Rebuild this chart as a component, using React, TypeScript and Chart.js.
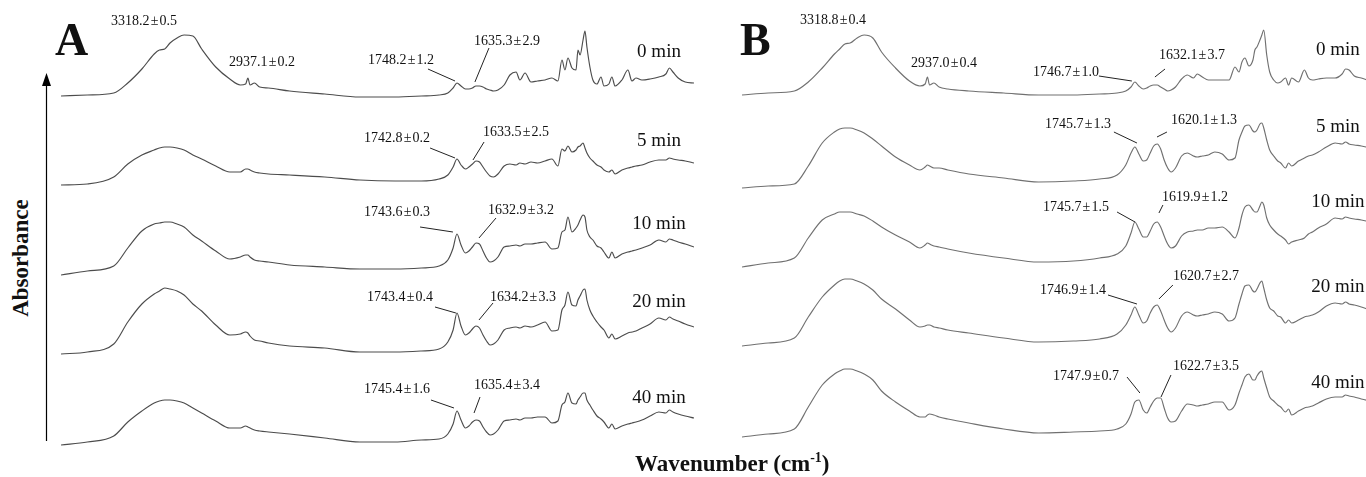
import React, { useEffect, useRef } from "react";
import { Chart, registerables } from "chart.js";

Chart.register(...registerables);

// Wavenumber grid (cm-1), shared by every spectrum
const wavenumbers = [
  4000, 3850, 3700, 3620, 3540, 3470, 3440, 3410, 3380, 3340,
  3300, 3250, 3200, 3120, 3040, 2980, 2950, 2937, 2925, 2900,
  2870, 2820, 2700, 2500, 2300, 2100, 1950,
  1850, 1800, 1770, 1748, 1725, 1700, 1680, 1660, 1640, 1620, 1600, 1580, 1560, 1540, 1515, 1480,
  1447, 1412, 1390,
  1361, 1327, 1290, 1247, 1208, 1174, 1151, 1134, 1117, 1094,
  1071, 1060, 1048, 1031, 1020, 1009, 992, 975, 952, 929,
  912, 884, 867, 849, 810, 776, 753, 730, 696, 650,
  600, 560, 540, 520, 490, 450, 400,
];

const timeLabels = ["0 min", "5 min", "10 min", "20 min", "40 min"];

// Panel A absorbance (arbitrary units)
const spectrumA0 = [
  0, 1, 3, 13, 27, 42, 46, 47, 53, 58, 61, 60, 47, 29, 17, 11, 12, 18, 11, 13, 9, 8, 5, 2, -1, -1, 0,
  1, 3, 8, 13, 10, 7, 7, 8, 10, 10, 9, 7, 6, 5, 6, 11,
  21, 24, 16,
  23, 14, 15, 16, 18, 15, 36, 26, 38, 28,
  26, 46, 41, 56, 65, 49, 29, 16, 12, 19,
  10, 12, 19, 10, 16, 26, 15, 18, 16, 17,
  19, 22, 28, 24, 18, 14, 13,
];
const spectrumA5 = [
  1, 2, 9, 22, 31, 36, 38, 39, 39, 38, 36, 31, 27, 20, 14, 14, 17, 17, 16, 14, 13, 12, 11, 9, 6, 5, 5,
  7, 11, 19, 27, 21, 17, 19, 22, 25, 24, 19, 14, 10, 9, 12, 20,
  22, 21, 23,
  22, 24, 23, 25, 27, 20, 37, 35, 40, 34,
  36, 39, 40, 43, 38, 33, 28, 25, 21, 19,
  16, 14, 16, 12, 16, 18, 19, 20, 21, 24,
  26, 26, 28, 27, 26, 25, 23,
];
const spectrumA10 = [
  0, 4, 9, 27, 44, 51, 52, 53, 53, 51, 48, 40, 34, 24, 16, 18, 20, 20, 18, 15, 14, 13, 10, 8, 6, 6, 7,
  9, 15, 27, 41, 30, 22, 24, 28, 32, 31, 24, 17, 13, 14, 18, 28,
  29, 30, 29,
  31, 31, 32, 33, 26, 27, 43, 45, 58, 43,
  47, 50, 55, 60, 58, 45, 38, 35, 29, 27,
  23, 17, 23, 17, 21, 23, 24, 25, 27, 30,
  35, 33, 36, 35, 33, 31, 28,
];
const spectrumA20 = [
  1, 3, 11, 33, 51, 61, 64, 67, 66, 64, 60, 51, 44, 30, 20, 21, 23, 22, 19, 15, 14, 12, 9, 7, 3, 3, 4,
  6, 13, 25, 42, 29, 20, 22, 26, 29, 27, 20, 14, 10, 11, 15, 25,
  27, 28, 27,
  29, 28, 30, 33, 24, 25, 45, 50, 63, 50,
  49, 55, 59, 65, 66, 55, 45, 39, 33, 28,
  25, 17, 21, 16, 19, 22, 23, 24, 27, 31,
  37, 35, 38, 36, 34, 31, 28,
];
const spectrumA40 = [
  0, 3, 9, 23, 34, 42, 44, 45, 45, 44, 42, 37, 32, 24, 17, 17, 19, 18, 17, 15, 14, 13, 11, 7, 3, 3, 5,
  6, 11, 21, 34, 25, 17, 19, 23, 25, 24, 18, 13, 10, 11, 15, 24,
  25, 26, 25,
  27, 27, 28, 28, 22, 24, 40, 43, 52, 42,
  41, 45, 48, 52, 52, 45, 40, 35, 29, 26,
  23, 17, 21, 16, 19, 21, 22, 23, 25, 29,
  33, 32, 35, 33, 31, 29, 27,
];

// Panel B absorbance (arbitrary units)
const spectrumB0 = [
  0, 2, 4, 13, 27, 41, 46, 51, 52, 57, 60, 57, 43, 27, 14, 9, 11, 18, 10, 12, 8, 6, 4, 2, 0, 0, 1,
  2, 4, 8, 13, 9, 6, 7, 9, 10, 10, 8, 6, 4, 5, 8, 16,
  20, 17, 21,
  18, 15, 15, 15, 15, 28, 23, 33, 37, 29,
  35, 45, 48, 55, 60, 65, 40, 23, 15, 12,
  13, 17, 10, 17, 13, 25, 17, 15, 16, 17,
  17, 21, 26, 25, 19, 17, 14,
];
const spectrumB5 = [
  0, 2, 4, 22, 45, 56, 59, 60, 60, 58, 55, 49, 42, 31, 23, 18, 21, 23, 22, 20, 20, 18, 14, 10, 6, 7, 9,
  13, 23, 35, 41, 34, 27, 28, 35, 42, 44, 39, 28, 20, 16, 20, 32,
  35, 32, 31,
  32, 33, 36, 34, 28, 30, 48, 56, 62, 63,
  57, 56, 58, 64, 65, 60, 48, 38, 32, 27,
  25, 20, 25, 22, 27, 30, 32, 33, 36, 41,
  45, 44, 46, 44, 43, 42, 40,
];
const spectrumB10 = [
  0, 4, 9, 29, 47, 53, 55, 55, 55, 53, 51, 46, 40, 32, 25, 19, 22, 24, 23, 21, 20, 18, 14, 9, 5, 6, 9,
  13, 21, 34, 45, 38, 30, 30, 36, 43, 45, 40, 31, 23, 19, 21, 31,
  35, 36, 37,
  37, 39, 39, 40, 35, 29, 39, 52, 60, 62,
  57, 55, 55, 61, 65, 62, 49, 42, 37, 33,
  31, 27, 23, 25, 27, 29, 33, 35, 39, 43,
  49, 48, 50, 49, 48, 47, 45,
];
const spectrumB20 = [
  0, 3, 8, 29, 49, 61, 65, 67, 67, 65, 62, 56, 47, 37, 26, 19, 20, 21, 21, 19, 18, 16, 13, 8, 4, 5, 7,
  12, 21, 31, 39, 31, 23, 25, 33, 39, 41, 35, 26, 18, 14, 18, 30,
  34, 31, 30,
  31, 32, 34, 32, 25, 28, 42, 52, 60, 61,
  55, 54, 57, 63, 65, 58, 46, 38, 35, 30,
  29, 23, 26, 23, 26, 29, 30, 31, 34, 40,
  43, 42, 44, 42, 41, 39, 36,
];
const spectrumB40 = [
  0, 3, 8, 30, 52, 63, 66, 68, 68, 66, 63, 57, 46, 35, 26, 20, 20, 22, 23, 22, 20, 18, 14, 8, 4, 5, 6,
  8, 13, 23, 35, 37, 27, 24, 30, 36, 39, 39, 29, 19, 15, 16, 26,
  33, 32, 31,
  32, 33, 35, 35, 27, 32, 44, 52, 60, 63,
  57, 57, 61, 65, 66, 59, 49, 40, 36, 32,
  30, 25, 28, 22, 26, 29, 30, 31, 34, 38,
  40, 40, 42, 41, 40, 38, 36,
];

// vertical stacking offsets of the spectra (same units as absorbance)
const stackOffsetsA = [381, 291, 202, 122, 32];
const stackOffsetsB = [382, 289, 210, 131, 40];

type Note = { text: string; w: number; v: number; line?: number[] };

const PM = "\u200A±\u200A";

const peakNotesA: Note[] = [
  { text: `3318.2${PM}0.5`, w: 3528, v: 456 },
  { text: `2937.1${PM}0.2`, w: 2857, v: 415 },
  { text: `1748.2${PM}1.2`, w: 2066, v: 417, line: [1913, 408, 1759, 396] },
  { text: `1635.3${PM}2.9`, w: 1464, v: 436, line: [1566, 429, 1646, 395] },
  { text: `1742.8${PM}0.2`, w: 2089, v: 339, line: [1901, 329, 1759, 319] },
  { text: `1633.5${PM}2.5`, w: 1412, v: 345, line: [1594, 335, 1657, 317] },
  { text: `1743.6${PM}0.3`, w: 2089, v: 265, line: [1958, 250, 1771, 245] },
  { text: `1632.9${PM}3.2`, w: 1384, v: 267, line: [1526, 259, 1623, 239] },
  { text: `1743.4${PM}0.4`, w: 2072, v: 180, line: [1873, 170, 1754, 164] },
  { text: `1634.2${PM}3.3`, w: 1373, v: 180, line: [1543, 174, 1623, 157] },
  { text: `1745.4${PM}1.6`, w: 2089, v: 88, line: [1896, 77, 1765, 69] },
  { text: `1635.4${PM}3.4`, w: 1464, v: 92, line: [1617, 80, 1651, 64] },
];

const peakNotesB: Note[] = [
  { text: `3318.8${PM}0.4`, w: 3478, v: 457 },
  { text: `2937.0${PM}0.4`, w: 2842, v: 414 },
  { text: `1746.7${PM}1.0`, w: 2143, v: 405, line: [1954, 401, 1765, 396] },
  { text: `1632.1${PM}3.7`, w: 1421, v: 422, line: [1575, 408, 1633, 400] },
  { text: `1745.7${PM}1.3`, w: 2074, v: 353, line: [1868, 345, 1736, 334] },
  { text: `1620.1${PM}1.3`, w: 1352, v: 357, line: [1564, 345, 1621, 340] },
  { text: `1745.7${PM}1.5`, w: 2086, v: 270, line: [1850, 265, 1747, 255] },
  { text: `1619.9${PM}1.2`, w: 1403, v: 280, line: [1587, 272, 1610, 264] },
  { text: `1746.9${PM}1.4`, w: 2103, v: 187, line: [1902, 182, 1736, 173] },
  { text: `1620.7${PM}2.7`, w: 1340, v: 201, line: [1530, 192, 1610, 178] },
  { text: `1747.9${PM}0.7`, w: 2028, v: 101, line: [1793, 100, 1719, 84] },
  { text: `1622.7${PM}3.5`, w: 1340, v: 111, line: [1541, 102, 1598, 80] },
];

const timeLabelWA = 599;
const timeLabelVA = [425, 336, 253, 175, 79];
const timeLabelWB = 584;
const timeLabelVB = [427, 350, 275, 190, 94];

const SERIF = '"Liberation Serif", "Times New Roman", serif';

function notesPlugin(notes: Note[], timeW: number, timeV: number[]) {
  return {
    id: "peakNotes",
    afterDatasetsDraw(chart: any) {
      const { ctx } = chart;
      const xs = chart.scales.x;
      const ys = chart.scales.y;
      ctx.save();
      ctx.fillStyle = "#111";
      ctx.strokeStyle = "#222";
      ctx.lineWidth = 1;
      ctx.textAlign = "center";
      ctx.textBaseline = "middle";
      ctx.font = `14px ${SERIF}`;
      for (const n of notes) {
        ctx.fillText(n.text, xs.getPixelForValue(n.w), ys.getPixelForValue(n.v));
        if (n.line) {
          ctx.beginPath();
          ctx.moveTo(xs.getPixelForValue(n.line[0]), ys.getPixelForValue(n.line[1]));
          ctx.lineTo(xs.getPixelForValue(n.line[2]), ys.getPixelForValue(n.line[3]));
          ctx.stroke();
        }
      }
      ctx.font = `19px ${SERIF}`;
      timeLabels.forEach((t, i) => {
        ctx.fillText(t, xs.getPixelForValue(timeW), ys.getPixelForValue(timeV[i]));
      });
      ctx.restore();
    },
  };
}

type PanelProps = {
  left: number;
  width: number;
  spectra: number[][];
  offsets: number[];
  color: string;
  notes: Note[];
  timeW: number;
  timeV: number[];
};

function Panel({ left, width, spectra, offsets, color, notes, timeW, timeV }: PanelProps) {
  const ref = useRef<HTMLCanvasElement>(null);
  useEffect(() => {
    const chart = new Chart(ref.current as HTMLCanvasElement, {
      type: "line",
      data: {
        datasets: spectra.map((s, i) => ({
          label: timeLabels[i],
          data: wavenumbers.map((w, j) => ({ x: w, y: s[j] + offsets[i] })),
          borderColor: color,
          borderWidth: 1.15,
          pointRadius: 0,
          fill: false,
          cubicInterpolationMode: "monotone" as const,
        })),
      },
      options: {
        responsive: false,
        animation: false,
        events: [],
        layout: { padding: 0 },
        plugins: { legend: { display: false }, tooltip: { enabled: false } },
        scales: {
          x: { type: "linear", min: 400, max: 4000, reverse: true, display: false },
          y: { type: "linear", min: 0, max: 477, display: false },
        },
      },
      plugins: [notesPlugin(notes, timeW, timeV)],
    } as any);
    return () => chart.destroy();
  }, []);
  return (
    <canvas
      ref={ref}
      width={width}
      height={477}
      style={{ position: "absolute", left, top: 0, width, height: 477 }}
    />
  );
}

export default function App() {
  return (
    <div
      style={{
        position: "fixed",
        left: 0,
        top: 0,
        width: 1366,
        height: 477,
        overflow: "hidden",
        background: "#fff",
        fontFamily: SERIF,
        color: "#111",
      }}
    >
      <Panel
        left={61}
        width={633}
        spectra={[spectrumA0, spectrumA5, spectrumA10, spectrumA20, spectrumA40]}
        offsets={stackOffsetsA}
        color="#4c4c4c"
        notes={peakNotesA}
        timeW={timeLabelWA}
        timeV={timeLabelVA}
      />
      <Panel
        left={742}
        width={628}
        spectra={[spectrumB0, spectrumB5, spectrumB10, spectrumB20, spectrumB40]}
        offsets={stackOffsetsB}
        color="#707070"
        notes={peakNotesB}
        timeW={timeLabelWB}
        timeV={timeLabelVB}
      />
      <div style={{ position: "absolute", left: 55, top: 17, font: `bold 46px ${SERIF}`, lineHeight: "46px" }}>A</div>
      <div style={{ position: "absolute", left: 740, top: 17, font: `bold 46px ${SERIF}`, lineHeight: "46px" }}>B</div>
      <svg style={{ position: "absolute", left: 40, top: 73 }} width={14} height={370}>
        <line x1={6.5} y1={10} x2={6.5} y2={368} stroke="#000" strokeWidth={1.2} />
        <polygon points="6.5,0 2,13 11,13" fill="#000" />
      </svg>
      <div
        style={{
          position: "absolute",
          left: 23 - 80,
          top: 258 - 15,
          width: 160,
          height: 30,
          lineHeight: "30px",
          textAlign: "center",
          transform: "rotate(-90deg)",
          font: `bold 23px ${SERIF}`,
        }}
      >
        Absorbance
      </div>
      <div
        style={{
          position: "absolute",
          left: 635,
          top: 451,
          height: 30,
          lineHeight: "30px",
          whiteSpace: "nowrap",
          font: `bold 23px ${SERIF}`,
        }}
      >
        Wavenumber (cm<sup style={{ fontSize: "0.6em", lineHeight: 0 }}>-1</sup>)
      </div>
    </div>
  );
}
